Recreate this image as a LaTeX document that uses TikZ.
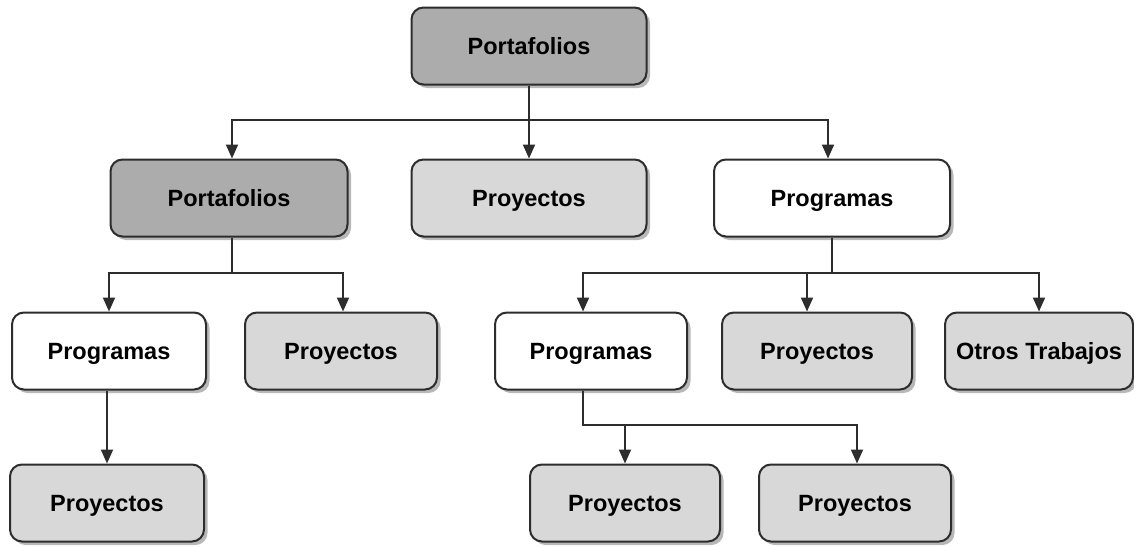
\documentclass[tikz,border=0pt]{standalone}
\usepackage{fontspec}
\setmainfont{Liberation Sans}
\usetikzlibrary{arrows.meta,shadows}
\definecolor{boxdark}{RGB}{172,172,172}
\definecolor{boxlight}{RGB}{216,216,216}
\definecolor{edge}{RGB}{45,45,45}
\tikzset{
  box/.style={draw=edge, line width=2pt, rounded corners=12pt,
    minimum height=77pt, inner sep=0pt, align=center,
    text height=17pt, text depth=0pt,
    font=\fontsize{23.5}{28}\selectfont\bfseries,
    drop shadow={shadow xshift=3.5pt, shadow yshift=-3.5pt, opacity=0.28, fill=black}},
  darkbox/.style={box, fill=boxdark},
  lightbox/.style={box, fill=boxlight},
  whitebox/.style={box, fill=white},
  link/.style={draw=edge, line width=2pt, -{Triangle[length=14pt,width=12pt]}},
}
\begin{document}
\begin{tikzpicture}[x=1pt, y=-1pt]
\useasboundingbox (0,0) rectangle (1134,546);

% level 0
\node[darkbox, minimum width=235pt] (top) at (529,46) {Portafolios};

% level 1
\node[darkbox, minimum width=237pt]  (portB) at (229,198) {Portafolios};
\node[lightbox, minimum width=235pt] (proyB) at (529,198) {Proyectos};
\node[whitebox, minimum width=236pt] (progB) at (832,198) {Programas};

% level 2
\node[whitebox, minimum width=194pt] (progL) at (109,351) {Programas};
\node[lightbox, minimum width=192pt] (proyL) at (341,351) {Proyectos};
\node[whitebox, minimum width=192pt] (progR) at (591,351) {Programas};
\node[lightbox, minimum width=190pt] (proyR) at (817,351) {Proyectos};
\node[lightbox, minimum width=188pt] (otros) at (1039,351) {Otros Trabajos};

% level 3
\node[lightbox, minimum width=194pt] (proyLL) at (107,503) {Proyectos};
\node[lightbox, minimum width=190pt] (proyRa) at (625,503) {Proyectos};
\node[lightbox, minimum width=192pt] (proyRb) at (855,503) {Proyectos};

% heights of the horizontal bus lines
\coordinate (busA) at (0,120);
\coordinate (busB) at (0,273);
\coordinate (busC) at (0,425);

% connectors from the top portfolio
\draw[link] (top.south) -- (proyB.north);
\draw[link] (top.south) -- (top.south |- busA) -| ([xshift=3pt]portB.north);
\draw[link] (top.south) -- (top.south |- busA) -| ([xshift=-4pt]progB.north);

% connectors from the second-level portfolio
\draw[link] ([xshift=3pt]portB.south) -- ([xshift=3pt]portB.south |- busB) -| (progL.north);
\draw[link] ([xshift=3pt]portB.south) -- ([xshift=3pt]portB.south |- busB) -| ([xshift=2pt]proyL.north);

% connectors from the second-level programme
\draw[link] (progB.south) -- (progB.south |- busB) -| ([xshift=-8pt]progR.north);
\draw[link] (progB.south) -- (progB.south |- busB) -| ([xshift=-10pt]proyR.north);
\draw[link] (progB.south) -- (progB.south |- busB) -| (otros.north);

% programme children
\draw[link] ([xshift=-2pt]progL.south) -- (proyLL.north);
\draw[link] ([xshift=-8pt]progR.south) -- ([xshift=-8pt]progR.south |- busC) -| (proyRa.north);
\draw[link] ([xshift=-8pt]progR.south) -- ([xshift=-8pt]progR.south |- busC) -| ([xshift=2pt]proyRb.north);
\end{tikzpicture}
\end{document}
